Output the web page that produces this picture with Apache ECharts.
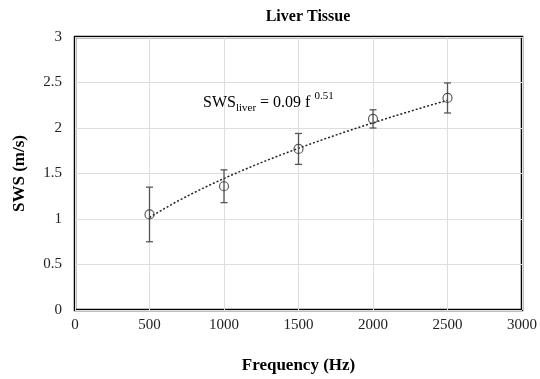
<!DOCTYPE html>
<html>
<head>
<meta charset="utf-8">
<script src="https://cdn.jsdelivr.net/npm/echarts@6/dist/echarts.min.js"></script>
<style>
  html, body { margin: 0; padding: 0; background: #fff; }
  #chart { width: 540px; height: 379px; }
</style>
</head>
<body>
<div id="chart"></div>
<script>
// Measured shear wave speed in liver tissue at each excitation frequency
const frequencies = [500, 1000, 1500, 2000, 2500];
const swsMean = [1.05, 1.36, 1.77, 2.10, 2.33];
const swsStd = [0.30, 0.18, 0.17, 0.10, 0.165];
const xTicks = [0, 500, 1000, 1500, 2000, 2500, 3000];
const yTicks = [0, 0.5, 1, 1.5, 2, 2.5, 3];

// Power-law trendline (least squares in log-log space) over the measured range
function powerFit(xs, ys) {
  const n = xs.length;
  let sx = 0, sy = 0, sxx = 0, sxy = 0;
  for (let i = 0; i < n; i++) {
    const lx = Math.log(xs[i]), ly = Math.log(ys[i]);
    sx += lx; sy += ly; sxx += lx * lx; sxy += lx * ly;
  }
  const b = (n * sxy - sx * sy) / (n * sxx - sx * sx);
  const a = Math.exp((sy - b * sx) / n);
  return { a, b };
}
const fit = powerFit(frequencies, swsMean);
const trend = [];
const f0 = frequencies[0], f1 = frequencies[frequencies.length - 1];
for (let k = 0; k <= 60; k++) {
  const f = f0 + (f1 - f0) * k / 60;
  trend.push([f, fit.a * Math.pow(f, fit.b)]);
}

const points = frequencies.map((f, i) => [f, swsMean[i]]);
const bars = frequencies.map((f, i) => [f, swsMean[i] - swsStd[i], swsMean[i] + swsStd[i]]);

const serif = '"Liberation Serif", "Times New Roman", serif';
const chart = echarts.init(document.getElementById('chart'), null, { renderer: 'canvas' });

chart.setOption({
  animation: false,
  backgroundColor: '#fff',
  title: {
    text: 'Liver Tissue',
    left: 303, top: 4, textAlign: 'center',
    textStyle: { fontFamily: serif, fontWeight: 'bold', fontSize: 16, color: '#000' }
  },
  grid: {
    left: 75, right: 17, top: 37, bottom: 69,
    show: true, borderColor: '#000', borderWidth: 2.5, backgroundColor: 'transparent'
  },
  xAxis: {
    type: 'value', min: xTicks[0], max: xTicks[xTicks.length - 1], interval: 500,
    name: 'Frequency (Hz)', nameLocation: 'middle', nameGap: 47,
    nameTextStyle: { fontFamily: serif, fontWeight: 'bold', fontSize: 17, color: '#000' },
    axisLine: { show: false }, axisTick: { show: false },
    axisLabel: { fontFamily: serif, fontSize: 15, color: '#222', margin: 8, formatter: v => String(v) },
    splitLine: { show: true, lineStyle: { color: '#dedede', width: 1 } }
  },
  yAxis: {
    type: 'value', min: yTicks[0], max: yTicks[yTicks.length - 1], interval: 0.5,
    name: 'SWS (m/s)', nameLocation: 'middle', nameGap: 47, nameRotate: 90,
    nameTextStyle: { fontFamily: serif, fontWeight: 'bold', fontSize: 17, color: '#000' },
    axisLine: { show: false }, axisTick: { show: false },
    axisLabel: { fontFamily: serif, fontSize: 15, color: '#222', margin: 13, formatter: v => String(v) },
    splitLine: { show: true, lineStyle: { color: '#dedede', width: 1 } }
  },
  series: [
    {
      name: 'trend', type: 'line', data: trend, showSymbol: false, smooth: false,
      lineStyle: { color: '#222', width: 1.5, type: [2, 2] }, z: 2
    },
    {
      name: 'error', type: 'custom', data: bars, z: 3,
      renderItem: function (params, api) {
        const x = api.value(0);
        const lo = api.coord([x, api.value(1)]);
        const hi = api.coord([x, api.value(2)]);
        const cap = 3.5;
        const style = { stroke: '#555', lineWidth: 1.3 };
        return {
          type: 'group',
          children: [
            { type: 'line', shape: { x1: lo[0], y1: lo[1], x2: hi[0], y2: hi[1] }, style },
            { type: 'line', shape: { x1: lo[0] - cap, y1: lo[1], x2: lo[0] + cap, y2: lo[1] }, style },
            { type: 'line', shape: { x1: hi[0] - cap, y1: hi[1], x2: hi[0] + cap, y2: hi[1] }, style }
          ]
        };
      }
    },
    {
      name: 'SWS', type: 'scatter', data: points, symbol: 'circle', symbolSize: 9, z: 4,
      itemStyle: { color: 'rgba(255,255,255,0)', borderColor: '#333', borderWidth: 1.2 }
    }
  ],
  graphic: [
    {
      type: 'text', left: 203, top: 91, z: 10,
      style: {
        text: '{m|SWS}{s|liver}{m| = 0.09 f }{p|0.51}',
        rich: {
          m: { fontFamily: serif, fontSize: 16, color: '#000', verticalAlign: 'bottom', lineHeight: 20 },
          s: { fontFamily: serif, fontSize: 11, color: '#000', verticalAlign: 'bottom', lineHeight: 14, padding: [0, 0, -3, 0] },
          p: { fontFamily: serif, fontSize: 11, color: '#000', verticalAlign: 'top', lineHeight: 14, padding: [0, 0, 8, 0] }
        }
      }
    }
  ]
});
</script>
</body>
</html>
